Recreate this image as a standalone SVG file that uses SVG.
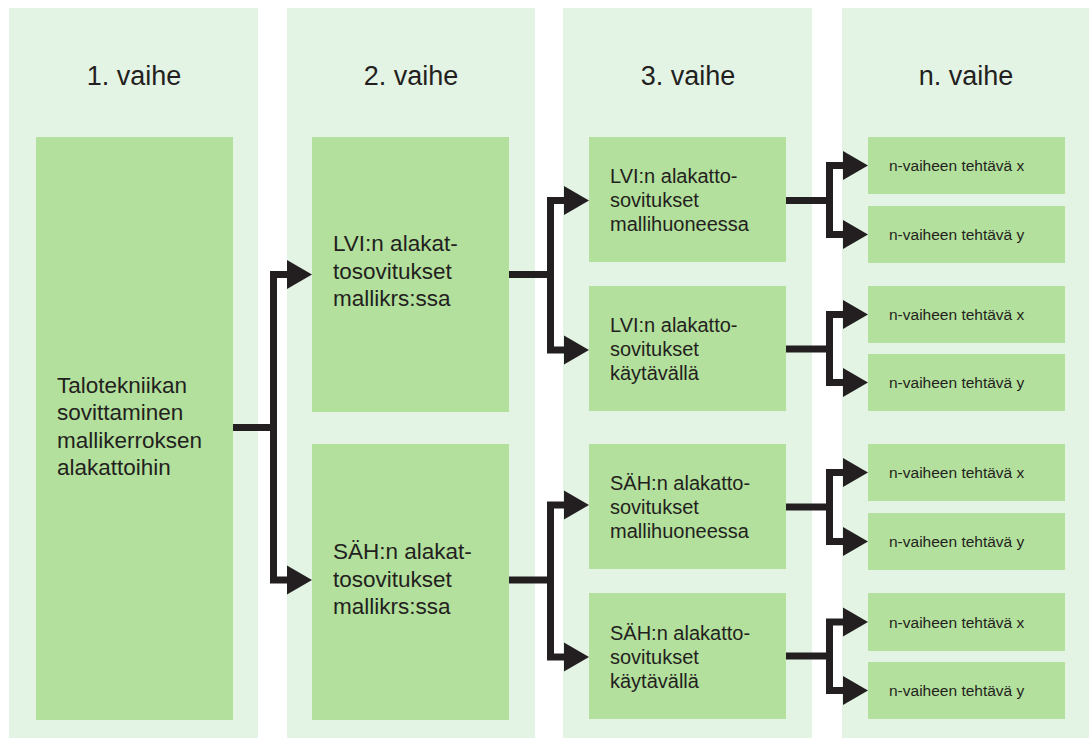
<svg xmlns="http://www.w3.org/2000/svg" width="1090" height="738" viewBox="0 0 1090 738">
  <style>
    .col { fill: #e3f4e5; }
    .box { fill: #b3e09c; }
    .head { font-family: "Liberation Sans", Arial, sans-serif; font-size: 27px; fill: #231f20; text-anchor: middle; }
    .t22 { font-family: "Liberation Sans", Arial, sans-serif; font-size: 22.5px; fill: #231f20; }
    .t20 { font-family: "Liberation Sans", Arial, sans-serif; font-size: 20px; fill: #231f20; }
    .t15 { font-family: "Liberation Sans", Arial, sans-serif; font-size: 15.5px; fill: #231f20; }
    .wire { fill: none; stroke: #231f20; stroke-width: 7; stroke-linejoin: miter; stroke-linecap: butt; }
  </style>
  <defs>
    <marker id="arrow" markerUnits="userSpaceOnUse" markerWidth="26" markerHeight="30" viewBox="0 0 26 30" refX="0" refY="15" orient="auto">
      <path d="M0,0.5 L25,15 L0,29.5 z" fill="#231f20"/>
    </marker>
  </defs>

  <!-- phase columns -->
  <g id="phases">
    <rect class="col" x="9" y="8" width="249" height="730"/>
    <rect class="col" x="287" y="8" width="248" height="730"/>
    <rect class="col" x="563" y="8" width="249" height="730"/>
    <rect class="col" x="842" y="8" width="247" height="730"/>
    <text class="head" x="134" y="85">1. vaihe</text>
    <text class="head" x="411" y="85">2. vaihe</text>
    <text class="head" x="688" y="85">3. vaihe</text>
    <text class="head" x="966" y="85">n. vaihe</text>
  </g>

  <!-- phase 1 -->
  <g id="n1">
    <rect class="box" x="36" y="137" width="197" height="583"/>
    <text class="t22" x="57"><tspan x="57" y="393">Talotekniikan</tspan><tspan x="57" y="420">sovittaminen</tspan><tspan x="57" y="447.5">mallikerroksen</tspan><tspan x="57" y="475">alakattoihin</tspan></text>
  </g>

  <!-- phase 2 -->
  <g id="n2a">
    <rect class="box" x="312" y="137" width="197" height="275"/>
    <text class="t22"><tspan x="333" y="251">LVI:n alakat-</tspan><tspan x="333" y="278.5">tosovitukset</tspan><tspan x="333" y="306">mallikrs:ssa</tspan></text>
  </g>
  <g id="n2b">
    <rect class="box" x="312" y="444" width="197" height="276"/>
    <text class="t22"><tspan x="333" y="559">SÄH:n alakat-</tspan><tspan x="333" y="586.5">tosovitukset</tspan><tspan x="333" y="614">mallikrs:ssa</tspan></text>
  </g>

  <!-- phase 3 -->
  <g id="n3a">
    <rect class="box" x="589" y="137" width="197" height="125"/>
    <text class="t20"><tspan x="610" y="183">LVI:n alakatto-</tspan><tspan x="610" y="207">sovitukset</tspan><tspan x="610" y="231">mallihuoneessa</tspan></text>
  </g>
  <g id="n3b">
    <rect class="box" x="589" y="286" width="197" height="125"/>
    <text class="t20"><tspan x="610" y="332">LVI:n alakatto-</tspan><tspan x="610" y="356">sovitukset</tspan><tspan x="610" y="380">käytävällä</tspan></text>
  </g>
  <g id="n3c">
    <rect class="box" x="589" y="444" width="197" height="125"/>
    <text class="t20"><tspan x="610" y="490">SÄH:n alakatto-</tspan><tspan x="610" y="514">sovitukset</tspan><tspan x="610" y="538">mallihuoneessa</tspan></text>
  </g>
  <g id="n3d">
    <rect class="box" x="589" y="593" width="197" height="126"/>
    <text class="t20"><tspan x="610" y="640">SÄH:n alakatto-</tspan><tspan x="610" y="664">sovitukset</tspan><tspan x="610" y="688">käytävällä</tspan></text>
  </g>

  <!-- phase n -->
  <g id="n4a"><rect class="box" x="868" y="137" width="197" height="57"/><text class="t15" x="889" y="171">n-vaiheen tehtävä x</text></g>
  <g id="n4b"><rect class="box" x="868" y="206" width="197" height="57"/><text class="t15" x="889" y="240">n-vaiheen tehtävä y</text></g>
  <g id="n4c"><rect class="box" x="868" y="286" width="197" height="57"/><text class="t15" x="889" y="320">n-vaiheen tehtävä x</text></g>
  <g id="n4d"><rect class="box" x="868" y="354" width="197" height="57"/><text class="t15" x="889" y="388">n-vaiheen tehtävä y</text></g>
  <g id="n4e"><rect class="box" x="868" y="444" width="197" height="57"/><text class="t15" x="889" y="478">n-vaiheen tehtävä x</text></g>
  <g id="n4f"><rect class="box" x="868" y="513" width="197" height="57"/><text class="t15" x="889" y="547">n-vaiheen tehtävä y</text></g>
  <g id="n4g"><rect class="box" x="868" y="593" width="197" height="58"/><text class="t15" x="889" y="627.5">n-vaiheen tehtävä x</text></g>
  <g id="n4h"><rect class="box" x="868" y="662" width="197" height="57"/><text class="t15" x="889" y="696">n-vaiheen tehtävä y</text></g>

  <!-- connectors: stem out of each box, then a fork with arrowheads -->
  <g id="connectors">
    <path class="wire" d="M233,427.5 H277"/>
    <path class="wire" d="M273.5,427.5 V274.5 H287" marker-end="url(#arrow)"/>
    <path class="wire" d="M273.5,427.5 V580 H287" marker-end="url(#arrow)"/>

    <path class="wire" d="M509,274.5 H554"/>
    <path class="wire" d="M550.5,274.5 V200.5 H564" marker-end="url(#arrow)"/>
    <path class="wire" d="M550.5,274.5 V350 H564" marker-end="url(#arrow)"/>

    <path class="wire" d="M509,580 H554"/>
    <path class="wire" d="M550.5,580 V505 H564" marker-end="url(#arrow)"/>
    <path class="wire" d="M550.5,580 V657 H564" marker-end="url(#arrow)"/>

    <path class="wire" d="M786,200.5 H833"/>
    <path class="wire" d="M829.5,200.5 V165.5 H843" marker-end="url(#arrow)"/>
    <path class="wire" d="M829.5,200.5 V234.5 H843" marker-end="url(#arrow)"/>

    <path class="wire" d="M786,349 H833"/>
    <path class="wire" d="M829.5,349 V314.5 H843" marker-end="url(#arrow)"/>
    <path class="wire" d="M829.5,349 V382.5 H843" marker-end="url(#arrow)"/>

    <path class="wire" d="M786,507 H833"/>
    <path class="wire" d="M829.5,507 V472.5 H843" marker-end="url(#arrow)"/>
    <path class="wire" d="M829.5,507 V541.5 H843" marker-end="url(#arrow)"/>

    <path class="wire" d="M786,656 H833"/>
    <path class="wire" d="M829.5,656 V622 H843" marker-end="url(#arrow)"/>
    <path class="wire" d="M829.5,656 V690.5 H843" marker-end="url(#arrow)"/>
  </g>
</svg>
